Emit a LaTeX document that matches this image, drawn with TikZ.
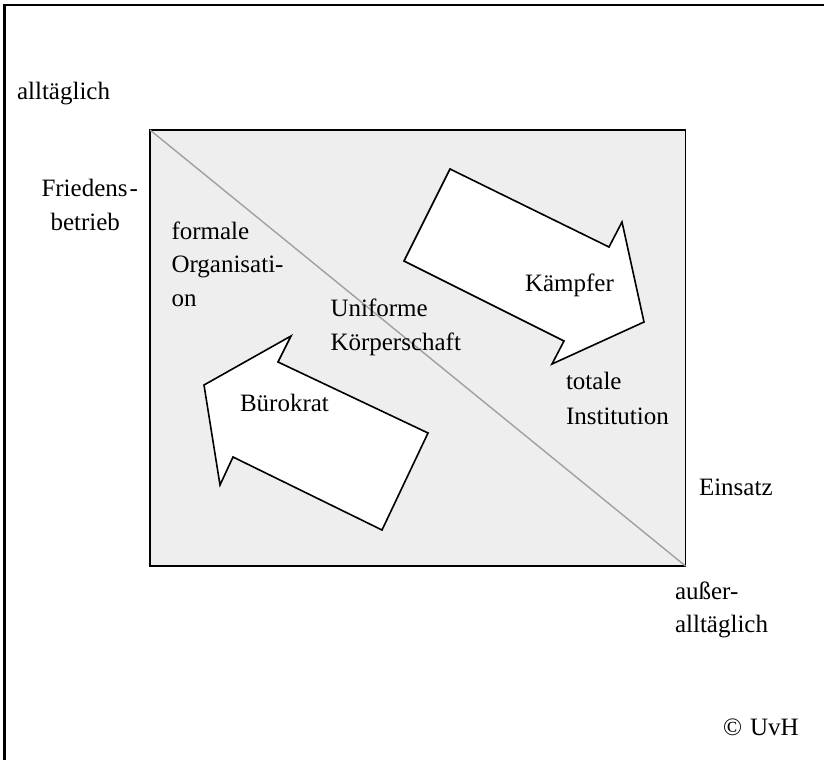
\documentclass[tikz,border=0pt]{standalone}
\usepackage{fontspec}
\setmainfont{Liberation Serif}
\definecolor{panelgray}{HTML}{EEEEEE}
\definecolor{diaggray}{HTML}{A0A0A0}
\begin{document}
\begin{tikzpicture}[x=1pt,y=-1pt,
  lbl/.style={anchor=base west,inner sep=0pt,outer sep=0pt,font=\fontsize{25}{34}\selectfont},
  bigarrow/.style={draw=black,fill=white,line width=1.6pt,line join=miter},
  frameline/.style={draw=black,line width=2.4pt}]
\useasboundingbox (0,0) rectangle (824,760);
% outer frame (top and left edges only visible)
\draw[frameline] (4.5,760) -- (4.5,5) -- (824,5);
% panel
\draw[fill=panelgray,draw=black,line width=1.8pt] (150,130) rectangle (685.5,566);
\draw[diaggray,line width=1.4pt] (150,130) -- (685.5,566);
% arrows
\draw[bigarrow] (450,169) -- (609,247) -- (622,222) -- (644,322) -- (552,364) -- (564,341) -- (404,261) -- cycle;
\draw[bigarrow] (291,336) -- (278,362) -- (428,433) -- (382,530) -- (233,457) -- (220,485) -- (204,385) -- cycle;
% labels
\node[lbl] (t1) at (17,99.5) {alltäglich};
\node[lbl] (t2a) at (41.5,196) {Friedens\hspace{2pt}-};
\node[lbl] (t2b) at (50.5,230) {betrieb};
\node[lbl] (t3a) at (171.5,239) {formale};
\node[lbl] (t3b) at (171.5,272) {Organisati-};
\node[lbl] (t3c) at (171.5,306.5) {on};
\node[lbl] (t4a) at (330.5,316.5) {Uniforme};
\node[lbl] (t4b) at (330.5,350) {Körperschaft};
\node[lbl] (t5) at (525,291.5) {Kämpfer};
\node[lbl] (t6) at (240,411) {Bürokrat};
\node[lbl] (t7a) at (566,389.5) {totale};
\node[lbl] (t7b) at (566,424) {Institution};
\node[lbl] (t8) at (699,495.5) {Einsatz};
\node[lbl] (t9a) at (675,599.5) {außer-};
\node[lbl] (t9b) at (675,632) {alltäglich};
\node[lbl] (t10) at (723,735) {©\hspace{8pt}UvH};
\end{tikzpicture}
\end{document}
